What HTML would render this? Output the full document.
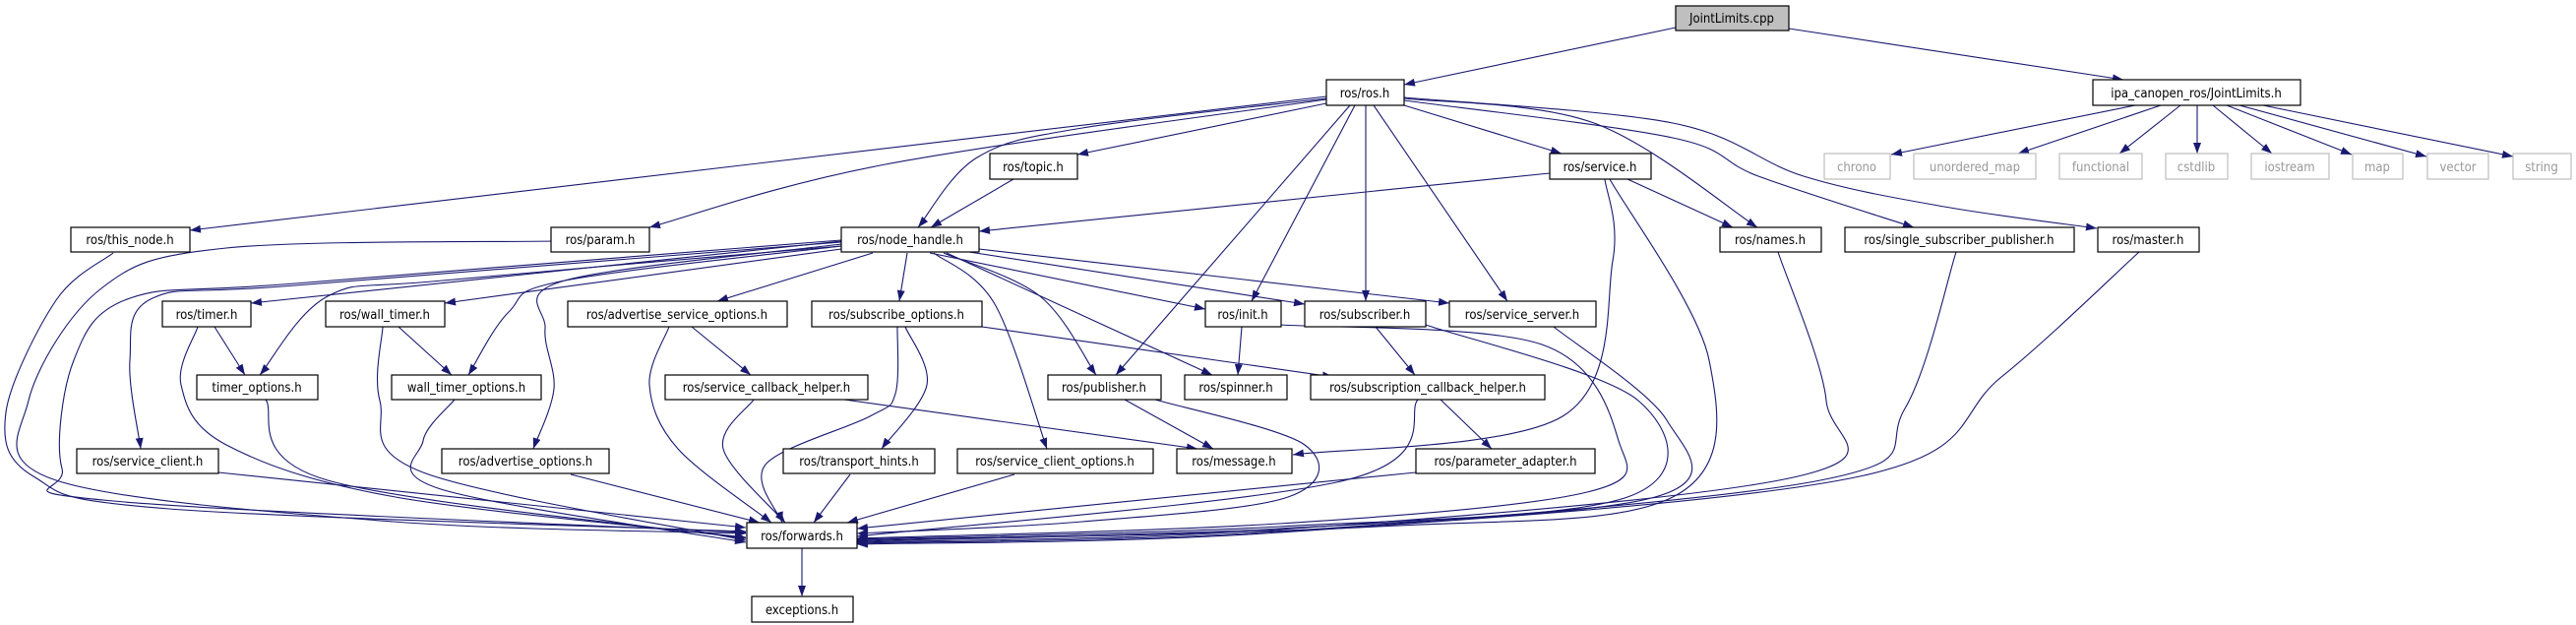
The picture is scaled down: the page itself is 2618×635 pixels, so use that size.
<!DOCTYPE html>
<html><head><meta charset="utf-8"><style>
html,body{margin:0;padding:0;background:#fff;}
svg{display:block}
text{font-family:"DejaVu Sans Condensed","Liberation Sans Narrow","Liberation Sans",sans-serif;font-size:13px;fill:#000}
.g text{fill:#999}
</style></head><body>
<svg id="s" width="2618" height="635" viewBox="0 0 2618 635" xmlns="http://www.w3.org/2000/svg">
<defs><marker id="a" markerUnits="userSpaceOnUse" markerWidth="11" markerHeight="8" refX="11" refY="4" orient="auto"><path d="M0,0 L11,4 L0,8 z" fill="#191970"/></marker></defs>
<g id="edges" fill="none" stroke="#191970" stroke-width="1.1"></g>
<g stroke="#000" stroke-width="1.2" fill="#fff" id="nodes">
<rect x="1703" y="6" width="115" height="25" fill="#bfbfbf"/>
<rect x="1348" y="81" width="79" height="26"/>
<rect x="2127" y="81" width="211" height="26"/>
<rect x="1006" y="156" width="89" height="26"/>
<rect x="1575" y="156" width="103" height="26"/>
<rect x="72" y="231" width="121" height="25"/>
<rect x="560" y="231" width="100" height="25"/>
<rect x="855" y="231" width="140" height="25"/>
<rect x="1748" y="231" width="103" height="25"/>
<rect x="1875" y="231" width="233" height="25"/>
<rect x="2132" y="231" width="103" height="25"/>
<rect x="165" y="306" width="90" height="26"/>
<rect x="331" y="306" width="121" height="26"/>
<rect x="577" y="306" width="223" height="26"/>
<rect x="825" y="306" width="173" height="26"/>
<rect x="1225" y="306" width="77" height="26"/>
<rect x="1326" y="306" width="123" height="26"/>
<rect x="1473" y="306" width="149" height="26"/>
<rect x="200" y="381" width="123" height="25"/>
<rect x="398" y="381" width="152" height="25"/>
<rect x="676" y="381" width="206" height="25"/>
<rect x="1065" y="381" width="115" height="25"/>
<rect x="1204" y="381" width="104" height="25"/>
<rect x="1332" y="381" width="238" height="25"/>
<rect x="78" y="456" width="144" height="25"/>
<rect x="449" y="456" width="170" height="25"/>
<rect x="796" y="456" width="154" height="25"/>
<rect x="973" y="456" width="199" height="25"/>
<rect x="1196" y="456" width="117" height="25"/>
<rect x="1439" y="456" width="182" height="25"/>
<rect x="759" y="531" width="112" height="26"/>
<rect x="764" y="606" width="103" height="26"/>
</g>
<g stroke="#bfbfbf" stroke-width="1.2" fill="#fff">
<rect x="1854" y="156" width="67" height="26"/><rect x="1945" y="156" width="124" height="26"/>
<rect x="2093" y="156" width="84" height="26"/><rect x="2201" y="156" width="63" height="26"/>
<rect x="2288" y="156" width="79" height="26"/><rect x="2391" y="156" width="51" height="26"/>
<rect x="2467" y="156" width="62" height="26"/><rect x="2554" y="156" width="59" height="26"/>
</g>
<g text-anchor="middle">
<text x="1760" y="23">JointLimits.cpp</text>
<text x="1387" y="99">ros/ros.h</text>
<text x="2232" y="99">ipa_canopen_ros/JointLimits.h</text>
<text x="1050" y="174">ros/topic.h</text>
<text x="1626" y="174">ros/service.h</text>
<text x="132" y="248">ros/this_node.h</text>
<text x="610" y="248">ros/param.h</text>
<text x="925" y="248">ros/node_handle.h</text>
<text x="1799" y="248">ros/names.h</text>
<text x="1991" y="248">ros/single_subscriber_publisher.h</text>
<text x="2183" y="248">ros/master.h</text>
<text x="210" y="324">ros/timer.h</text>
<text x="391" y="324">ros/wall_timer.h</text>
<text x="688" y="324">ros/advertise_service_options.h</text>
<text x="911" y="324">ros/subscribe_options.h</text>
<text x="1263" y="324">ros/init.h</text>
<text x="1387" y="324">ros/subscriber.h</text>
<text x="1547" y="324">ros/service_server.h</text>
<text x="261" y="398">timer_options.h</text>
<text x="474" y="398">wall_timer_options.h</text>
<text x="779" y="398">ros/service_callback_helper.h</text>
<text x="1122" y="398">ros/publisher.h</text>
<text x="1256" y="398">ros/spinner.h</text>
<text x="1451" y="398">ros/subscription_callback_helper.h</text>
<text x="150" y="473">ros/service_client.h</text>
<text x="534" y="473">ros/advertise_options.h</text>
<text x="873" y="473">ros/transport_hints.h</text>
<text x="1072" y="473">ros/service_client_options.h</text>
<text x="1254" y="473">ros/message.h</text>
<text x="1530" y="473">ros/parameter_adapter.h</text>
<text x="815" y="549">ros/forwards.h</text>
<text x="815" y="624">exceptions.h</text>
</g>
<g text-anchor="middle" class="g">
<text x="1887" y="174">chrono</text><text x="2007" y="174">unordered_map</text>
<text x="2135" y="174">functional</text><text x="2232" y="174">cstdlib</text>
<text x="2327" y="174">iostream</text><text x="2416" y="174">map</text>
<text x="2498" y="174">vector</text><text x="2583" y="174">string</text>
</g>
</svg>
<script>
var E=[
[[1703,28],[1427,86]],[[1818,29],[2158,81]],
[[2170,107],[1922,157]],[[2196,107],[2051,156]],[[2216,107],[2154,156]],[[2233,107],[2233,156]],
[[2249,107],[2309,156]],[[2263,107],[2390,157]],[[2276,107],[2466,159]],[[2300,107],[2554,159]],
[[1348,98],[193,234]],[[1348,101],[900,167],[660,231]],
[[1348,100],[1100,130],[993,160],[933,231]],
[[1348,105],[1095,157]],[[1427,107],[1587,156]],[[1377,107],[1272,306]],[[1372,107],[1134,381]],
[[1388,107],[1388,306]],[[1396,107],[1532,306]],
[[1427,100],[1620,125],[1786,231]],
[[1427,102],[1700,140],[1787,179],[1945,231]],
[[1427,99],[1700,125],[1833,179],[1976,210],[2131,232]],
[[1030,182],[946,231]],
[[1575,176],[995,235]],[[1654,182],[1761,231]],
[[1631,182],[1639,265],[1588,423],[1314,462]],
[[1636,182],[1737,366],[1700,505],[1400,535],[871,550]],
[[855,245],[255,308]],[[855,253],[452,308]],[[887,257],[729,306]],[[922,257],[914,306]],
[[945,257],[1225,314]],[[985,256],[1326,309]],[[995,253],[1473,308]],
[[959,257],[1057,301],[1114,381]],[[962,257],[1232,381]],
[[949,257],[1011,309],[1064,456]],
[[855,248],[574,285],[554,334],[563,395],[542,456]],
[[855,250],[574,285],[517,317],[476,381]],
[[855,250],[450,285],[333,301],[264,381]],
[[855,246],[300,290],[155,303],[132,366],[143,456]],
[[855,244],[300,288],[132,303],[75,366],[63,476],[115,509],[758,541]],
[[115,257],[57,305],[6,419],[34,484],[172,517],[758,540]],
[[560,245],[230,252],[103,293],[29,407],[57,488],[400,530],[758,542]],
[[218,332],[249,381]],[[201,332],[184,391],[230,452],[402,505],[758,546]],
[[405,332],[459,381]],[[389,332],[386,407],[430,480],[758,549]],
[[270,406],[333,488],[758,547]],[[462,406],[430,448],[448,497],[758,551]],
[[222,480],[758,536]],[[580,482],[772,531]],
[[703,332],[763,381]],[[680,332],[660,391],[689,456],[784,531]],
[[858,406],[1217,456]],[[766,406],[735,456],[798,531]],
[[912,332],[910,400],[884,423],[778,472],[795,531]],
[[920,332],[942,391],[896,456]],[[998,332],[1355,383]],
[[864,482],[827,531]],[[1031,482],[861,531]],
[[1143,406],[1233,456]],[[1174,406],[1326,452],[1309,505],[1100,530],[871,542]],
[[1439,480],[871,537]],
[[1464,406],[1516,456]],[[1441,406],[1367,488],[871,545]],
[[1262,332],[1258,381]],[[1302,330],[1567,350],[1645,448],[1613,500],[1300,532],[871,547]],
[[1398,332],[1438,381]],[[1449,330],[1665,407],[1654,505],[1300,535],[871,548]],
[[1579,332],[1694,427],[1682,505],[1300,537],[871,549]],
[[1807,256],[1856,407],[1827,484],[1300,538],[871,551]],
[[1988,256],[1936,415],[1850,488],[1300,540],[871,552]],
[[2174,256],[2034,383],[1890,484],[1300,541],[871,553]],
[[815,557],[815,606]]
];
var g=document.getElementById('edges'),ns='http://www.w3.org/2000/svg';
E.forEach(function(p){var d='M'+p[0][0]+','+p[0][1];
if(p.length==2){d+=' L'+p[1][0]+','+p[1][1];}else{
for(var i=0;i<p.length-1;i++){var p0=p[i-1]||p[i],p1=p[i],p2=p[i+1],p3=p[i+2]||p2;
var c1=[p1[0]+(p2[0]-p0[0])/6,p1[1]+(p2[1]-p0[1])/6],c2=[p2[0]-(p3[0]-p1[0])/6,p2[1]-(p3[1]-p1[1])/6];
d+=' C'+c1+' '+c2+' '+p2;}}
var e=document.createElementNS(ns,'path');e.setAttribute('d',d);e.setAttribute('marker-end','url(#a)');g.appendChild(e);});
</script>
</body></html>
